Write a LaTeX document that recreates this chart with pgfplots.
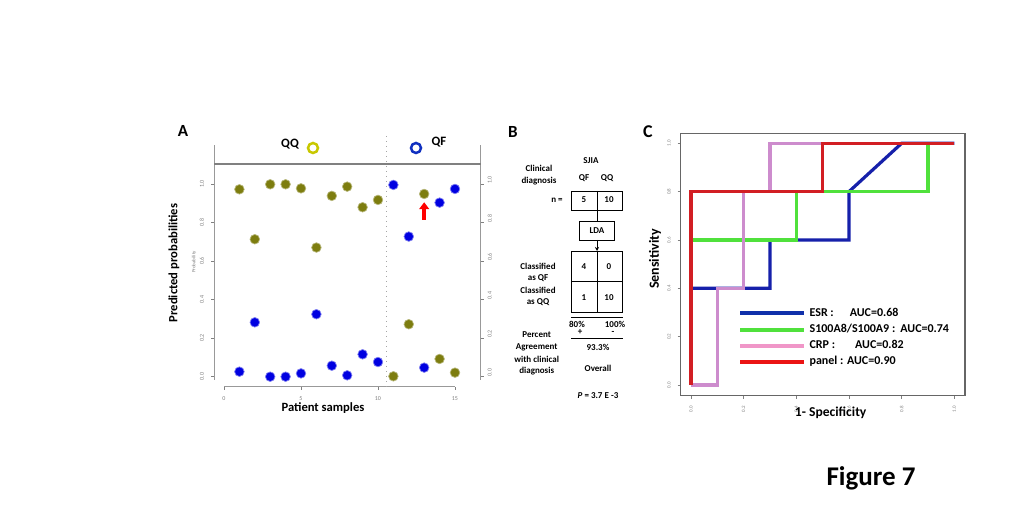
\documentclass[border=0pt]{standalone}
\usepackage{fontspec}
\setmainfont{Carlito}
\usepackage{pgfplots}
\pgfplotsset{compat=1.18}
\usetikzlibrary{arrows.meta}

\definecolor{olivept}{RGB}{125,125,15}
\definecolor{bluept}{RGB}{0,0,225}
\definecolor{ringY}{RGB}{200,200,0}
\definecolor{ringB}{RGB}{16,48,192}
\definecolor{esrC}{RGB}{22,32,170}
\definecolor{esrL}{RGB}{16,48,170}
\definecolor{s100C}{RGB}{80,225,60}
\definecolor{crpC}{RGB}{205,140,205}
\definecolor{crpL}{RGB}{240,150,200}
\definecolor{panC}{RGB}{210,30,35}
\definecolor{panL}{RGB}{235,20,20}

\newcommand{\fs}[1]{\fontsize{#1}{#1}\selectfont}

\begin{document}
\begin{tikzpicture}
\path[use as bounding box] (0pt,0pt) rectangle (512pt,-256pt);

% ---------- panel A ----------
\begin{axis}[
    at={(107pt,-193.5pt)}, anchor=south west,
    scale only axis, width=133.35pt, height=121pt,
    xmin=-0.65, xmax=16.67, ymin=-0.0535, ymax=1.202,
    axis line style={draw=none}, clip=false,
    xtick={0,5,10,15}, ytick={0,0.2,0.4,0.6,0.8,1.0},
    tick align=outside, major tick length=1.5pt,
    tick style={gray, line width=0.3pt},
    xtick pos=bottom, ytick pos=both, yticklabel pos=left,
    yticklabel style={rotate=90, anchor=south, font=\fs{3}, text=gray,
        /pgf/number format/fixed, /pgf/number format/fixed zerofill,
        /pgf/number format/precision=1},
    xticklabel style={font=\fs{3}, text=gray},
    /pgf/number format/assume math mode=true,
]
\draw[gray!80, line width=0.5pt] (axis cs:-0.65,-0.017) -- (axis cs:-0.65,1.202);
\draw[gray!80, line width=0.5pt] (axis cs:16.67,-0.017) -- (axis cs:16.67,1.202);
\draw[gray, line width=0.8pt] (axis cs:-0.65,1.104) -- (axis cs:16.67,1.104);
\draw[gray!80, line width=0.5pt] (axis cs:0,-0.0535) -- (axis cs:15,-0.0535);
\draw[gray!70, dotted, line width=0.5pt] (axis cs:10.56,1.249) -- (axis cs:10.56,-0.0535);
\pgfplotsinvokeforeach{0.0,0.2,0.4,0.6,0.8,1.0}{
  \node[rotate=90, anchor=north, font=\fs{3}, text=gray] at (axis cs:16.67,#1) [xshift=2pt] {#1};
}
% predicted probability of QQ
\addplot[only marks, mark=*, mark size=2.4pt, color=olivept,
    mark options={draw=olivept!55, line width=0.35pt}] coordinates {
 (1,0.972) (2,0.713) (3,0.998) (4,0.998) (5,0.977) (6,0.670) (7,0.938) (8,0.986)
 (9,0.879) (10,0.917) (11,0.002) (12,0.272) (13,0.948) (14,0.092) (15,0.021)};
% predicted probability of QF
\addplot[only marks, mark=*, mark size=2.4pt, color=bluept,
    mark options={draw=bluept!50, line width=0.35pt}] coordinates {
 (1,0.026) (2,0.282) (3,0.0) (4,0.0) (5,0.017) (6,0.324) (7,0.057) (8,0.007)
 (9,0.116) (10,0.076) (11,0.995) (12,0.727) (13,0.047) (14,0.903) (15,0.974)};
\draw[-{Triangle[length=3.5pt,width=5pt]}, line width=2pt, red] (axis cs:13,0.815) -- (axis cs:13,0.905);
\end{axis}

% ---------- panel C ----------
\begin{axis}[
    at={(340.35pt,-197.85pt)}, anchor=south west,
    scale only axis, width=142.15pt, height=131.2pt,
    xmin=-0.039, xmax=1.0406, ymin=-0.0443, ymax=1.0414,
    axis line style={draw=black!60, line width=0.6pt},
    xtick={0,0.2,0.4,0.6,0.8,1.0}, ytick={0,0.2,0.4,0.6,0.8,1.0},
    tick align=outside, major tick length=1.5pt,
    tick style={gray, line width=0.3pt},
    xtick pos=bottom, ytick pos=left,
    xticklabel style={rotate=90, anchor=east, font=\fs{2.5}, text=gray},
    yticklabel style={rotate=90, anchor=south, font=\fs{2.5}, text=gray},
    /pgf/number format/fixed, /pgf/number format/fixed zerofill,
    /pgf/number format/precision=1,
    /pgf/number format/assume math mode=true,
    legend style={at={(0.2015,0.349)}, anchor=north west, draw=none, fill=none,
        inner sep=0pt, font=\fs{6}\bfseries, row sep=-0.8pt,
        nodes={inner sep=1.6pt}},
    legend cell align=left,
    legend image code/.code={\draw[#1, line width=2pt] (0pt,0pt) -- (32pt,0pt);},
]
\addlegendimage{esrL}
\addlegendimage{s100C}
\addlegendimage{crpL}
\addlegendimage{panL}
\legend{ESR :\hspace{8pt}AUC=0.68, S100A8/S100A9 :\hspace{2.5pt}AUC=0.74, CRP :\hspace{10pt}AUC=0.82, panel : AUC=0.90}
\addplot[forget plot, esrC, line width=1.6pt] coordinates {
 (0,0) (0,0.4) (0.3,0.4) (0.3,0.6) (0.6,0.6) (0.6,0.8) (0.8,1) (1,1)};
\addplot[forget plot, s100C, line width=1.6pt] coordinates {
 (0,0) (0,0.6) (0.4,0.6) (0.4,0.8) (0.9,0.8) (0.9,1) (1,1)};
\addplot[forget plot, crpC, line width=1.6pt] coordinates {
 (0,0) (0.1,0) (0.1,0.4) (0.2,0.4) (0.2,0.8) (0.3,0.8) (0.3,1) (0.5,1)};
\addplot[forget plot, panC, line width=1.6pt] coordinates {
 (0,0) (0,0.8) (0.5,0.8) (0.5,1) (1,1)};
\end{axis}

% ---------- labels and panel B (1 unit = 1 px of the canvas) ----------
\begin{scope}[x=0.5pt, y=-0.5pt, font=\bfseries]
\node[font=\fs{8.5}\bfseries] at (183,131) {A};
\node[font=\fs{6.4}\bfseries] at (290,144) {QQ};
\draw[ringY, line width=1.25pt] (313,148) circle (5);
\node[font=\fs{6.4}\bfseries] at (439,142) {QF};
\draw[ringB, line width=1.25pt] (416,148) circle (5);
\node[rotate=90, font=\fs{6.3}\bfseries] at (174,263) {Predicted probabilities};
\node[font=\fs{6.3}\bfseries] at (323,408) {Patient samples};
\node[rotate=90, font=\fs{2.5}, text=gray] at (194,262) {Probability};

\node[font=\fs{8.5}\bfseries] at (513,132) {B};
\begin{scope}[font=\fs{4.5}\bfseries]
\node at (591,161) {SJIA};
\node at (539,168) {Clinical};
\node at (539,181) {diagnosis};
\node at (584,178) {QF};
\node at (607,178) {QQ};
\draw[line width=0.4pt] (571,191) rectangle (622.7,210);
\draw[line width=0.4pt] (597,191) -- (597,210);
\node at (557,200) {n =};
\node at (584,200) {5};
\node at (609,200) {10};
\draw[line width=0.4pt] (597,210) -- (597,221.7);
\draw[line width=0.4pt] (579,221.7) rectangle (614,240);
\node at (597,231) {LDA};
\draw[line width=0.4pt, -{Stealth[length=2pt,width=2pt]}] (597,240) -- (597,251);
\draw[line width=0.4pt] (571,251) rectangle (622.7,312.7);
\draw[line width=0.4pt] (571,281.7) -- (622.7,281.7);
\draw[line width=0.4pt] (597,251) -- (597,312.7);
\node at (584,266.7) {4};
\node at (609,266.7) {0};
\node at (584,298) {1};
\node at (609,298) {10};
\node at (538,266) {Classified};
\node at (538,278) {as QF};
\node at (538,290.5) {Classified};
\node at (538,302.5) {as QQ};
\draw[line width=0.4pt] (571,317.3) -- (622.7,317.3);
\node[inner sep=0pt] at (577,324.5) {80\%};
\node[inner sep=0pt] at (615,324.5) {100\%};
\node[inner sep=0pt] at (580,332.5) {+};
\node[inner sep=0pt] at (613,332.5) {-};
\draw[line width=0.4pt] (571,338.3) -- (622.7,338.3);
\node at (536.7,335) {Percent};
\node at (536.7,347) {Agreement};
\node at (536.7,359) {with clinical};
\node at (536.7,370.7) {diagnosis};
\node at (598,347) {93.3\%};
\node at (598,368) {Overall};
\node at (598,396) {\textit{P} = 3.7 E -3};
\end{scope}

\node[font=\fs{9}\bfseries] at (648,132) {C};
\node[rotate=90, font=\fs{7}\bfseries] at (655,259) {Sensitivity};
\node[font=\fs{6.8}\bfseries] at (830.7,413) {1- Specificity};

\node[font=\fs{13.5}\bfseries] at (871,478) {Figure 7};
\end{scope}
\end{tikzpicture}
\end{document}
